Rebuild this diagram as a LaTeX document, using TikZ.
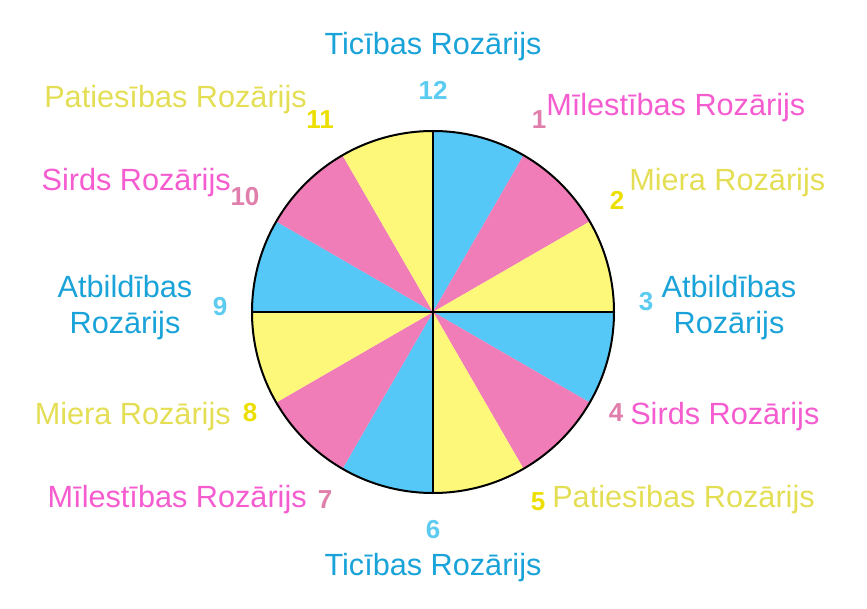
\documentclass[tikz,border=0pt]{standalone}
\usepackage{fontspec}
\setmainfont{Liberation Sans}
\usepackage{xcolor}
\usepackage{tikz}

\definecolor{secblue}{HTML}{55C8F8}
\definecolor{secpink}{HTML}{F07CB8}
\definecolor{secyellow}{HTML}{FDF87A}
\definecolor{txtblue}{HTML}{1AA3D9}
\definecolor{txtpink}{HTML}{F55CCF}
\definecolor{txtyellow}{HTML}{E4DE55}
\definecolor{numblue}{HTML}{5CCBF0}
\definecolor{numpink}{HTML}{E07FAB}
\definecolor{numyellow}{HTML}{ECDF00}

\begin{document}
\begin{tikzpicture}[
  x=0.75pt, y=0.75pt,
  label/.style={inner sep=0pt, font=\fontsize{23}{27}\selectfont},
  num/.style={inner sep=0pt, font=\fontsize{19.5}{22}\selectfont\bfseries},
]
\useasboundingbox (0,0) rectangle (867,608);

  % Sectors
  \coordinate (c) at (433,296);
  \fill[secblue]   (c) -- ++(90:181)  arc[start angle=90,  end angle=60,   radius=181] -- cycle;
  \fill[secpink]   (c) -- ++(60:181)  arc[start angle=60,  end angle=30,   radius=181] -- cycle;
  \fill[secyellow] (c) -- ++(30:181)  arc[start angle=30,  end angle=0,    radius=181] -- cycle;
  \fill[secblue]   (c) -- ++(0:181)   arc[start angle=0,   end angle=-30,  radius=181] -- cycle;
  \fill[secpink]   (c) -- ++(-30:181) arc[start angle=-30, end angle=-60,  radius=181] -- cycle;
  \fill[secyellow] (c) -- ++(-60:181) arc[start angle=-60, end angle=-90,  radius=181] -- cycle;
  \fill[secblue]   (c) -- ++(-90:181) arc[start angle=-90, end angle=-120, radius=181] -- cycle;
  \fill[secpink]   (c) -- ++(240:181) arc[start angle=240, end angle=210,  radius=181] -- cycle;
  \fill[secyellow] (c) -- ++(210:181) arc[start angle=210, end angle=180,  radius=181] -- cycle;
  \fill[secblue]   (c) -- ++(180:181) arc[start angle=180, end angle=150,  radius=181] -- cycle;
  \fill[secpink]   (c) -- ++(150:181) arc[start angle=150, end angle=120,  radius=181] -- cycle;
  \fill[secyellow] (c) -- ++(120:181) arc[start angle=120, end angle=90,   radius=181] -- cycle;

  % Outline
  \coordinate (top) at (433,477);
  \coordinate (bot) at (433,115);
  \coordinate (lft) at (252,296);
  \coordinate (rgt) at (614,296);
  \draw[line width=1.5pt] (c) circle[radius=181];
  \draw[line width=1.5pt] (top) -- (bot);
  \draw[line width=1.5pt] (lft) -- (rgt);

  % Numbers
  \node[num, numblue]   (n12) at (433,518) {12};
  \node[num, numpink]   (n1)  at (539,488) {1};
  \node[num, numyellow] (n2)  at (617,408) {2};
  \node[num, numblue]   (n3)  at (646,306) {3};
  \node[num, numpink]   (n4)  at (616,195) {4};
  \node[num, numyellow] (n5)  at (538,106) {5};
  \node[num, numblue]   (n6)  at (433,78)  {6};
  \node[num, numpink]   (n7)  at (325,108) {7};
  \node[num, numyellow] (n8)  at (250,195) {8};
  \node[num, numblue]   (n9)  at (220,301) {9};
  \node[num, numpink]   (n10) at (245,411) {10};
  \node[num, numyellow] (n11) at (320,488) {11};

  % Labels
  \node[label, txtblue] (t12) at (433,561) {Ticības Rozārijs};
  \node[label, txtpink, anchor=west] (t1) at (546,500) {Mīlestības Rozārijs};
  \node[label, txtyellow, anchor=west] (t2) at (629,425) {Miera Rozārijs};
  \node[label, txtblue, align=center] (t3) at (729,300) {Atbildības\\Rozārijs};
  \node[label, txtpink, anchor=west] (t4) at (630,191) {Sirds Rozārijs};
  \node[label, txtyellow, anchor=west] (t5) at (552,108) {Patiesības Rozārijs};
  \node[label, txtblue] (t6) at (433,40) {Ticības Rozārijs};
  \node[label, txtpink, anchor=east] (t7) at (307,108) {Mīlestības Rozārijs};
  \node[label, txtyellow, anchor=east] (t8) at (231,191) {Miera Rozārijs};
  \node[label, txtblue, align=center] (t9) at (125,300) {Atbildības\\Rozārijs};
  \node[label, txtpink, anchor=east] (t10) at (231,425) {Sirds Rozārijs};
  \node[label, txtyellow, anchor=east] (t11) at (307,508) {Patiesības Rozārijs};

\end{tikzpicture}
\end{document}
